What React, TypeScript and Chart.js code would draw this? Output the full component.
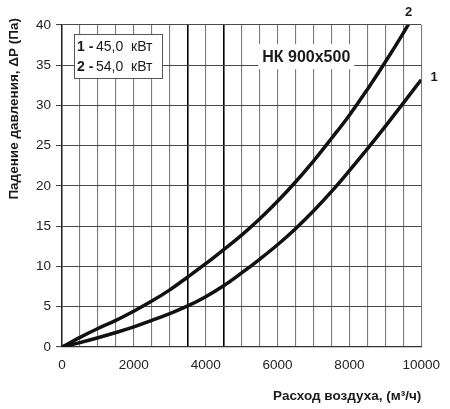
import React, { useEffect, useRef } from "react"
import { Chart, registerables } from "chart.js"

Chart.register(...registerables)

// airflow, m3/h
const flow = [0, 500, 1000, 1500, 2000, 2500, 3000, 3500, 4000, 4500, 5000, 5500, 6000, 6500, 7000, 7500, 8000, 8500, 9000, 9500, 10000]
// curve 1 - 45,0 kW
const dp1 = [0, 0.55, 1.15, 1.8, 2.5, 3.3, 4.15, 5.1, 6.25, 7.6, 9.2, 10.9, 12.7, 14.7, 16.9, 19.3, 21.9, 24.6, 27.4, 30.3, 33.2]
// curve 2 - 54,0 kW
const dp2 = [0, 1.2, 2.3, 3.3, 4.45, 5.7, 7.1, 8.7, 10.35, 12.1, 13.9, 15.9, 18.1, 20.5, 23.1, 25.9, 28.8, 32.0, 35.4, 39.0, 42.8]

const legendRows = [
  { num: "1", text: "45,0  кВт" },
  { num: "2", text: "54,0  кВт" },
]
const modelName = "НК 900x500"
const xTitle = "Расход воздуха, (м³/ч)"
const yTitle = "Падение давления, ΔP (Па)"

const FONT = "'Liberation Sans', Arial, sans-serif"

const textPlugin = {
  id: "texts",
  afterDraw(chart: any) {
    const { ctx, chartArea, scales } = chart
    const xs = scales.x
    const ys = scales.y
    ctx.save()
    ctx.fillStyle = "#1a1a1a"

    // axis titles
    ctx.font = `bold 13.5px ${FONT}`
    ctx.textAlign = "right"
    ctx.textBaseline = "middle"
    ctx.fillText(xTitle, chartArea.right, chartArea.bottom + 49)
    ctx.save()
    ctx.translate(14, chartArea.top - 7)
    ctx.rotate(-Math.PI / 2)
    ctx.fillText(yTitle, 0, 0)
    ctx.restore()

    // legend box
    const bx = chartArea.left + 12
    const by = chartArea.top + 9
    ctx.fillStyle = "#fff"
    ctx.fillRect(bx, by, 88, 44)
    ctx.strokeStyle = "#555"
    ctx.lineWidth = 1
    ctx.strokeRect(bx + 0.5, by + 0.5, 88, 44)
    ctx.fillStyle = "#1a1a1a"
    ctx.textAlign = "left"
    legendRows.forEach((r, i) => {
      const ty = by + 13 + i * 20
      ctx.font = `bold 14px ${FONT}`
      ctx.fillText(r.num + " -", bx + 3, ty)
      ctx.font = `14px ${FONT}`
      ctx.fillText(r.text, bx + 22, ty)
    })

    // model name
    ctx.font = `bold 16px ${FONT}`
    const w = ctx.measureText(modelName).width
    const cx = xs.getPixelForValue(6800)
    const cy = ys.getPixelForValue(36)
    ctx.fillStyle = "#fff"
    ctx.fillRect(cx - w / 2 - 4, cy - 13, w + 8, 25)
    ctx.fillStyle = "#1a1a1a"
    ctx.textAlign = "center"
    ctx.fillText(modelName, cx, cy)

    // curve numbers
    ctx.font = `bold 13px ${FONT}`
    ctx.fillText("2", xs.getPixelForValue(9650), chartArea.top - 13)
    ctx.fillText("1", chartArea.right + 13, ys.getPixelForValue(dp1[dp1.length - 1]) - 2)
    ctx.restore()
  },
}

export default function App() {
  const ref = useRef<HTMLCanvasElement>(null)

  useEffect(() => {
    document.body.style.margin = "0"
    let chart: Chart | null = null
    if (ref.current) {
      chart = new Chart(ref.current, {
        type: "line",
        data: {
          datasets: [
            {
              label: "1",
              data: flow.map((x, i) => ({ x, y: dp1[i] })),
              borderColor: "#111",
              borderWidth: 3.5,
              pointRadius: 0,
              tension: 0.4,
            },
            {
              label: "2",
              data: flow.map((x, i) => ({ x, y: dp2[i] })),
              borderColor: "#111",
              borderWidth: 3.5,
              pointRadius: 0,
              tension: 0.4,
            },
          ],
        },
        options: {
          responsive: false,
          animation: false,
          layout: { padding: { top: 25, right: 24, left: 0, bottom: 0 } },
          plugins: { legend: { display: false }, tooltip: { enabled: false } },
          scales: {
            x: {
              type: "linear",
              min: 0,
              max: 10000,
              afterFit: (s: any) => {
                s.height = 62
              },
              ticks: {
                stepSize: 500,
                autoSkip: false,
                maxRotation: 0,
                padding: 10,
                color: "#222",
                font: { family: FONT, size: 13.5 },
                callback: (v: any) => (v % 2000 === 0 ? String(v) : ""),
              },
              grid: {
                drawTicks: false,
                color: (c: any) => (c.tick && (c.tick.value === 3500 || c.tick.value === 4500) ? "#000" : "#7a7a7a"),
                lineWidth: (c: any) => (c.tick && (c.tick.value === 3500 || c.tick.value === 4500) ? 1.6 : 1.1),
              },
              border: { color: "#333", width: 1.2 },
            },
            y: {
              min: 0,
              max: 40,
              afterFit: (s: any) => {
                s.width = 62
              },
              ticks: {
                stepSize: 5,
                padding: 5,
                color: "#222",
                font: { family: FONT, size: 13.5 },
              },
              grid: { color: "#4a4a4a", lineWidth: 1.1, tickLength: 6 },
              border: { color: "#222", width: 1.5 },
            },
          },
        },
        plugins: [textPlugin],
      })
    }
    return () => {
      chart?.destroy()
    }
  }, [])

  return <canvas ref={ref} width="450" height="409" />
}
